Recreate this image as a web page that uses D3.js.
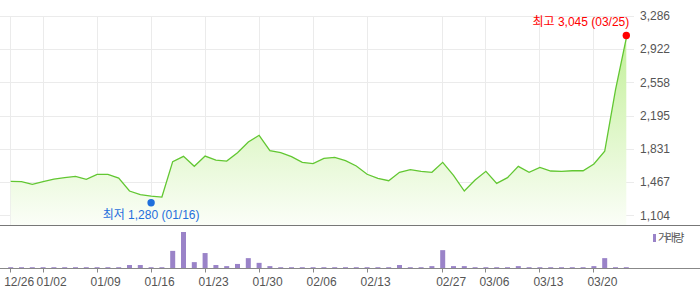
<!DOCTYPE html>
<meta charset="utf-8">
<style>
  body { margin: 0; background: #fff; }
  text { font-family: "Liberation Sans", Arial, "Noto Sans CJK KR", sans-serif; }
</style>
<div id="chart"></div>
<script src="https://d3js.org/d3.v7.min.js"></script>
<script>
// trading days shown on the chart
var dates = ["12/26","12/27","12/28","01/02","01/03","01/04","01/07","01/08","01/09","01/10",
  "01/11","01/14","01/15","01/16","01/17","01/18","01/21","01/22","01/23","01/24",
  "01/25","01/28","01/29","01/30","01/31","02/01","02/04","02/05","02/06","02/07",
  "02/08","02/11","02/12","02/13","02/14","02/15","02/18","02/19","02/25","02/26",
  "02/27","02/28","03/04","03/05","03/06","03/07","03/08","03/11","03/12","03/13",
  "03/14","03/15","03/18","03/19","03/20","03/21","03/22","03/25"];

// closing prices
var closes = [1476,1472,1443,1472,1501,1516,1531,1498,1553,1553,
  1512,1370,1330,1315,1304,1691,1750,1640,1753,1709,
  1698,1789,1906,1980,1811,1789,1746,1684,1669,1728,
  1739,1702,1644,1553,1509,1483,1575,1603,1586,1575,
  1684,1542,1370,1490,1586,1454,1516,1640,1575,1629,
  1589,1586,1592,1592,1666,1805,2476,3045];

// volume (thousand shares)
var volumes = [3,3,3,3,3,3,3,3,3,3,
  3,9,9,3,3,48,100,17,42,9,
  6,12,28,15,6,3,3,3,3,3,
  3,3,3,3,3,3,9,3,3,6,
  50,6,6,3,3,3,3,6,3,3,
  3,3,3,3,6,28,3,3];

var tickDates = ["12/26","01/02","01/09","01/16","01/23","01/30","02/06","02/13","02/27","03/06","03/13","03/20"];
var priceTicks = [1104,1467,1831,2195,2558,2922,3286];

var highMark = {date: "03/25", value: 3045};
var lowMark = {date: "01/16", value: 1280};

var width = 700, height = 289;

var svg = d3.select("#chart").append("svg")
  .attr("width", width)
  .attr("height", height);

var x = d3.scalePoint().domain(dates).range([10.7, 626.3]);
var y = d3.scaleLinear().domain([1104, 3286]).range([215.3, 16]);
var yVol = d3.scaleLinear().domain([0, d3.max(volumes)]).range([268.3, 232]);

var priceBottom = 225;

// gradient for the area under the line
var grad = svg.append("defs").append("linearGradient")
  .attr("id", "areaGrad")
  .attr("gradientUnits", "userSpaceOnUse")
  .attr("x1", 0).attr("y1", 16).attr("x2", 0).attr("y2", priceBottom);
grad.append("stop").attr("offset", "0%").attr("stop-color", "#bdee8f");
grad.append("stop").attr("offset", "100%").attr("stop-color", "#fbfef8");

// grid
svg.append("g")
  .selectAll("line")
  .data(priceTicks)
  .enter().append("line")
    .attr("x1", 0).attr("x2", 634)
    .attr("y1", function(d) { return Math.round(y(d)) + 0.5; })
    .attr("y2", function(d) { return Math.round(y(d)) + 0.5; })
    .style("stroke", "#ebebeb");

svg.append("g")
  .selectAll("line")
  .data(tickDates)
  .enter().append("line")
    .attr("x1", function(d) { return Math.floor(x(d)) + 0.5; })
    .attr("x2", function(d) { return Math.floor(x(d)) + 0.5; })
    .attr("y1", 16).attr("y2", priceBottom)
    .style("stroke", "#ebebeb");

// area + line
var points = dates.map(function(d, i) { return {date: d, close: closes[i], vol: volumes[i]}; });

svg.append("path")
  .datum(points)
  .attr("d", d3.area()
    .x(function(d) { return x(d.date); })
    .y0(priceBottom)
    .y1(function(d) { return y(d.close); }))
  .style("fill", "url(#areaGrad)");

svg.append("path")
  .datum(points)
  .attr("d", d3.line()
    .x(function(d) { return x(d.date); })
    .y(function(d) { return y(d.close); }))
  .style("fill", "none")
  .style("stroke", "#62c732")
  .style("stroke-width", 1.3);

// price labels on the right
svg.append("g")
  .selectAll("text")
  .data(priceTicks)
  .enter().append("text")
    .attr("x", 640)
    .attr("y", function(d) { return y(d); })
    .attr("dy", "0.35em")
    .style("font-size", "12px")
    .style("fill", "#555")
    .text(function(d) { return d3.format(",")(d); });

// high / low markers
svg.append("circle")
  .attr("cx", x(highMark.date))
  .attr("cy", y(highMark.value) - 2.5)
  .attr("r", 3.7)
  .style("fill", "#ff0000");
svg.append("text")
  .attr("x", x(highMark.date) + 3)
  .attr("y", y(highMark.value) - 16)
  .attr("dy", "0.35em")
  .attr("text-anchor", "end")
  .style("font-size", "12px")
  .style("fill", "#ff0000")
  .text("최고 " + d3.format(",")(highMark.value) + " (" + highMark.date + ")");

svg.append("circle")
  .attr("cx", x(lowMark.date))
  .attr("cy", y(lowMark.value) + 3.5)
  .attr("r", 3.7)
  .style("fill", "#1f6fdc");
svg.append("text")
  .attr("x", x(lowMark.date))
  .attr("y", y(lowMark.value) + 15.5)
  .attr("dy", "0.35em")
  .attr("text-anchor", "middle")
  .style("font-size", "12px")
  .style("fill", "#1f6fdc")
  .text("최저 " + d3.format(",")(lowMark.value) + " (" + lowMark.date + ")");

// separator between price and volume
svg.append("line")
  .attr("x1", 0).attr("x2", width)
  .attr("y1", priceBottom + 0.5).attr("y2", priceBottom + 0.5)
  .style("stroke", "#777");

// volume bars
svg.append("g")
  .selectAll("rect")
  .data(points)
  .enter().append("rect")
    .attr("x", function(d) { return x(d.date) - 2.5; })
    .attr("width", 5)
    .attr("y", function(d) { return yVol(d.vol); })
    .attr("height", function(d) { return yVol(0) - yVol(d.vol); })
    .style("fill", "#9a83c8");

// volume axis
svg.append("line")
  .attr("x1", 0).attr("x2", width)
  .attr("y1", 268.5).attr("y2", 268.5)
  .style("stroke", "#888");

svg.append("g")
  .selectAll("line")
  .data(tickDates)
  .enter().append("line")
    .attr("x1", function(d) { return Math.floor(x(d)) + 0.5; })
    .attr("x2", function(d) { return Math.floor(x(d)) + 0.5; })
    .attr("y1", 268).attr("y2", 272.5)
    .style("stroke", "#888");

svg.append("g")
  .selectAll("text")
  .data(tickDates)
  .enter().append("text")
    .attr("x", function(d) { return x(d) - 6.5; })
    .attr("y", 282)
    .attr("dy", "0.35em")
    .style("font-size", "12px")
    .style("fill", "#555")
    .text(function(d) { return d; });

// legend
svg.append("rect")
  .attr("x", 653).attr("y", 234)
  .attr("width", 3).attr("height", 8)
  .style("fill", "#9a83c8");
svg.append("text")
  .attr("x", 658).attr("y", 238.5)
  .attr("dy", "0.35em")
  .style("font-family", "'Noto Sans CJK KR', sans-serif")
  .style("font-size", "11px")
  .style("letter-spacing", "-2px")
  .style("fill", "#555")
  .text("거래량");
</script>
